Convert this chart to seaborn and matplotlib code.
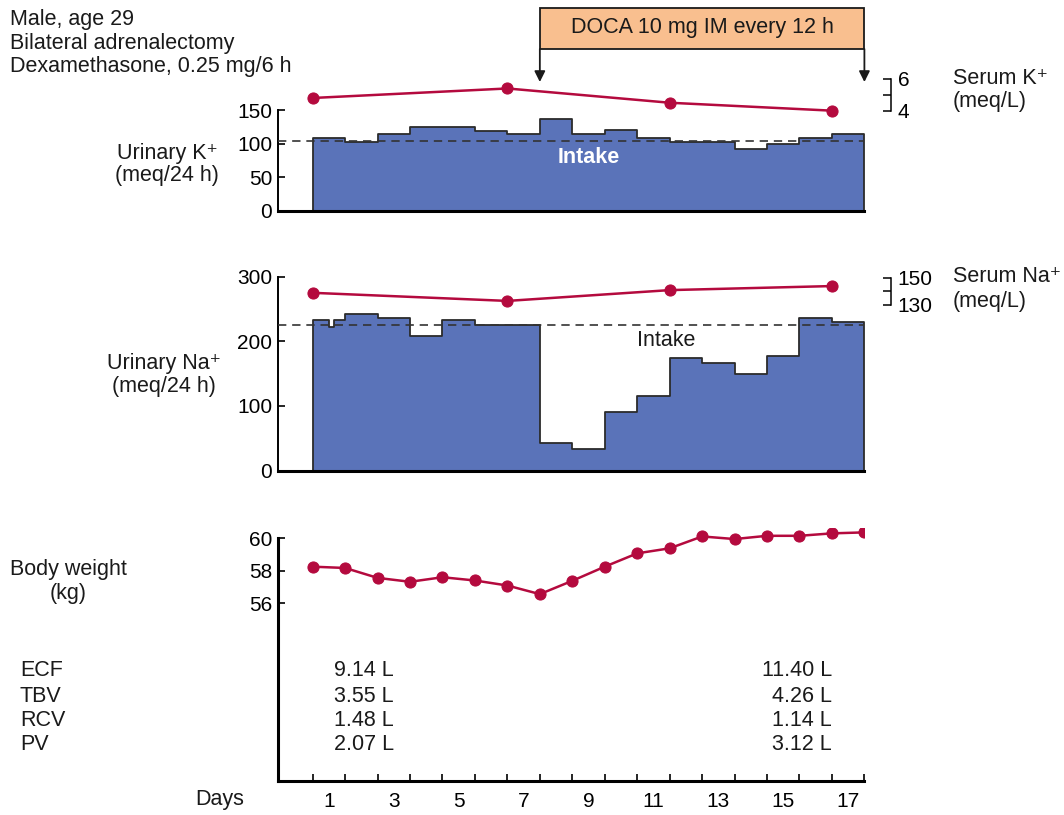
import numpy as np
import matplotlib.pyplot as plt
import matplotlib.transforms as mtransforms
from matplotlib.patches import Rectangle
import seaborn as sns

# day index: tick k marks the start of day k+1
k_edges = list(range(0, 18))
k_urine = [109, 103, 114, 125, 125, 119, 114, 137, 115, 120, 109, 102, 102, 92, 100, 108, 115]
k_intake = 104

na_edges = [0, 0.5, 0.65, 1, 2, 3, 4, 5, 7, 8, 9, 10, 11, 12, 13, 14, 15, 16, 17]
na_urine = [233, 223, 234, 242, 237, 208, 233, 225, 43, 33, 90, 116, 175, 166, 149, 177, 236, 231]
na_intake = 225

serum_pos = [0, 6, 11, 16]
serum_k = [4.8, 5.4, 4.5, 4.0]
serum_na = [139, 133, 141, 144]

weight_pos = list(range(0, 18))
weight = [58.24, 58.16, 57.55, 57.31, 57.59, 57.39, 57.08, 56.55, 57.37,
          58.24, 59.06, 59.37, 60.1, 59.94, 60.14, 60.14, 60.29, 60.35]

day_labels = [1, 3, 5, 7, 9, 11, 13, 15, 17]
doca_start, doca_end = 7, 17

comp_names = ["ECF", "TBV", "RCV", "PV"]
comp_before = ["9.14 L", "3.55 L", "1.48 L", "2.07 L"]
comp_after = ["11.40 L", "4.26 L", "1.14 L", "3.12 L"]

blue = "#5A73B9"
red = "#B40A3E"
peach = "#F9BF8F"
fs = 15.5
tfs = 15

sns.set_style("ticks")
plt.rcParams["font.family"] = ["Liberation Sans", "DejaVu Sans"]
plt.rcParams["axes.edgecolor"] = "black"
plt.rcParams["xtick.color"] = "black"
plt.rcParams["ytick.color"] = "black"
plt.rcParams["text.color"] = "#1a1a1a"

W, H = 1064, 815
fig = plt.figure(figsize=(W / 100, H / 100), dpi=100)


def box(left, top, right, bottom):
    return [left / W, 1 - bottom / H, (right - left) / W, (bottom - top) / H]


def fx(px):
    return px / W


def fy(py):
    return 1 - py / H


x_lim = (-1.08, 17)
ax_k = fig.add_axes(box(277.6, 75, 864.4, 211))
ax_na = fig.add_axes(box(277.6, 265, 864.4, 470.5))
ax_w = fig.add_axes(box(277.6, 528, 864.4, 781))


def mids(edges):
    return [(a + b) / 2 for a, b in zip(edges[:-1], edges[1:])]


# urinary bars
for ax, edges, vals, intake, ylim, top in [
    (ax_k, k_edges, k_urine, k_intake, (0, 202), 150),
    (ax_na, na_edges, na_urine, na_intake, (0, 318.6), 300),
]:
    sns.histplot(x=mids(edges), weights=vals, bins=edges, element="step", fill=True,
                 color=blue, alpha=1, edgecolor="#2b2b2b", linewidth=1.3, ax=ax)
    ax.axhline(intake, color="#333333", lw=1.2, ls=(0, (5, 3.5)), zorder=3)
    ax.set_xlim(*x_lim)
    ax.set_ylim(*ylim)
    ax.set_xlabel("")
    ax.set_ylabel("")
    sns.despine(ax=ax)
    ax.spines["left"].set_bounds(0, top)
    ax.spines["left"].set_linewidth(1.4)
    ax.spines["bottom"].set_linewidth(2.2)
    ax.tick_params(axis="x", bottom=False, labelbottom=False)
    ax.tick_params(axis="y", direction="in", length=5, width=1.2, pad=4, labelsize=tfs)

ax_k.set_yticks([0, 50, 100, 150])
ax_na.set_yticks([0, 100, 200, 300])

ax_k.text(8.5, 79, "Intake", color="white", fontweight="bold", ha="center", va="center", fontsize=fs)
ax_na.text(10.9, 202, "Intake", ha="center", va="center", fontsize=fs)

# serum values on bracket axes
for ax, vals, ylim, bounds, ticks, labels in [
    (ax_k, serum_k, (-2.33, 6.25), (4, 6), [4, 5, 6], ["4", "", "6"]),
    (ax_na, serum_na, (7.4, 159.6), (130, 150), [130, 140, 150], ["130", "", "150"]),
]:
    tw = ax.twinx()
    sns.lineplot(x=serum_pos, y=vals, ax=tw, color=red, marker="o", markersize=8,
                 markeredgecolor=red, linewidth=1.8)
    tw.set_ylim(*ylim)
    tw.set_xlim(*x_lim)
    tw.set_ylabel("")
    for s in ["top", "left", "bottom"]:
        tw.spines[s].set_visible(False)
    tw.spines["right"].set_position(("outward", 19))
    tw.spines["right"].set_bounds(*bounds)
    tw.spines["right"].set_linewidth(1.1)
    tw.set_yticks(ticks, labels)
    tw.tick_params(axis="y", direction="in", length=6, width=1.1, pad=5, labelsize=tfs)

# body weight
sns.lineplot(x=weight_pos, y=weight, ax=ax_w, color=red, marker="o", markersize=8,
             markeredgecolor=red, linewidth=1.8)
ax_w.set_xlim(*x_lim)
ax_w.set_ylim(45.05, 60.62)
ax_w.set_xlabel("")
ax_w.set_ylabel("")
sns.despine(ax=ax_w)
ax_w.spines["left"].set_bounds(45.05, 60)
ax_w.spines["left"].set_linewidth(2.2)
ax_w.spines["bottom"].set_linewidth(2.2)
ax_w.set_yticks([56, 58, 60])
ax_w.tick_params(axis="y", direction="in", length=5, width=1.2, pad=4, labelsize=tfs)
ax_w.set_xticks(range(0, 18))
ax_w.tick_params(axis="x", which="major", direction="in", length=5, width=1.2, labelbottom=False)
ax_w.set_xticks([d - 0.5 for d in day_labels], [str(d) for d in day_labels], minor=True)
ax_w.tick_params(axis="x", which="minor", length=0, pad=8, labelsize=tfs)

# compartment volumes
tw_w = mtransforms.blended_transform_factory(ax_w.transData, fig.transFigure)
row_y = [671, 696, 721, 745]
for name, before, after, py in zip(comp_names, comp_before, comp_after, row_y):
    fig.text(fx(20), fy(py), name, ha="left", va="center", fontsize=fs)
    ax_w.text(2.5, fy(py), before, transform=tw_w, ha="right", va="center", fontsize=fs)
    ax_w.text(16.0, fy(py), after, transform=tw_w, ha="right", va="center", fontsize=fs)

# DOCA box and arrows
tk = mtransforms.blended_transform_factory(ax_k.transData, fig.transFigure)
fig.add_artist(Rectangle((doca_start, fy(49)), doca_end - doca_start, 41 / H, transform=tk,
                         facecolor=peach, edgecolor="#1a1a1a", lw=1.3, clip_on=False, zorder=1))
fig.text((doca_start + doca_end) / 2, fy(28), "DOCA 10 mg IM every 12 h", transform=tk,
         ha="center", va="center", fontsize=fs, zorder=2)
for xa in [doca_start, doca_end]:
    ax_k.annotate("", xy=(xa, fy(82)), xytext=(xa, fy(49)), xycoords=tk, textcoords=tk,
                  arrowprops=dict(arrowstyle="-|>", color="#1a1a1a", lw=1.3,
                                  shrinkA=0, shrinkB=0, mutation_scale=16),
                  annotation_clip=False)

# labels
for i, line in enumerate(["Male, age 29", "Bilateral adrenalectomy", "Dexamethasone, 0.25 mg/6 h"]):
    fig.text(fx(10), fy(25 + 23.5 * i), line, ha="left", va="baseline", fontsize=fs)

fig.text(fx(167), fy(153), "Urinary K\u207a", ha="center", va="center", fontsize=fs)
fig.text(fx(167), fy(176), "(meq/24 h)", ha="center", va="center", fontsize=fs)
fig.text(fx(164), fy(364), "Urinary Na\u207a", ha="center", va="center", fontsize=fs)
fig.text(fx(164), fy(387), "(meq/24 h)", ha="center", va="center", fontsize=fs)
fig.text(fx(68), fy(570), "Body weight", ha="center", va="center", fontsize=fs)
fig.text(fx(68), fy(593), "(kg)", ha="center", va="center", fontsize=fs)
fig.text(fx(953), fy(78), "Serum K\u207a", ha="left", va="center", fontsize=fs)
fig.text(fx(953), fy(102), "(meq/L)", ha="left", va="center", fontsize=fs)
fig.text(fx(953), fy(277), "Serum Na\u207a", ha="left", va="center", fontsize=fs)
fig.text(fx(953), fy(301), "(meq/L)", ha="left", va="center", fontsize=fs)
fig.text(fx(220), fy(800), "Days", ha="center", va="center", fontsize=fs)

fig.savefig("out.png", dpi=100)
